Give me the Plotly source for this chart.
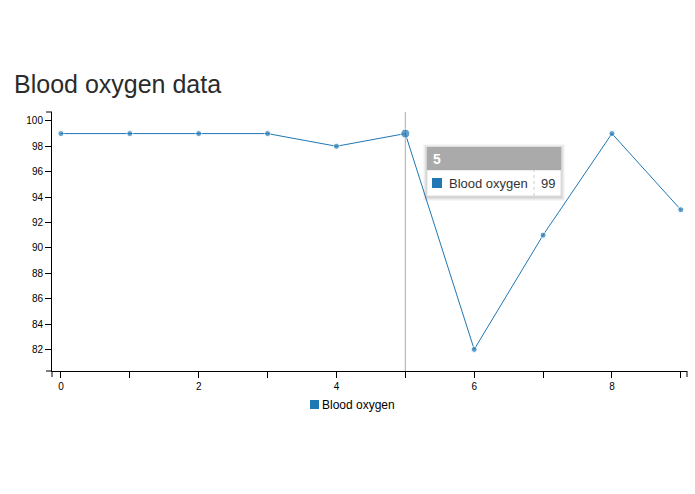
import plotly.graph_objects as go

# ---- data ----
x_vals = [0, 1, 2, 3, 4, 5, 6, 7, 8, 9]
oxygen = [99, 99, 99, 99, 98, 99, 82, 91, 99, 93]
series_name = "Blood oxygen"
title_text = "Blood oxygen data"
hover_index = 5
x_tickvals = list(range(10))
x_ticktext = ["0", "", "2", "", "4", "", "6", "", "8", ""]
y_tickvals = [82, 84, 86, 88, 90, 92, 94, 96, 98, 100]

W, H = 695, 494
L, R, T, B = 52, 687, 112, 371
BLUE = "#1f77b4"
FONT = "Liberation Sans, Arial, Helvetica, sans-serif"


def px(xp):
    return (xp - L) / (R - L)


def py(yp):
    return (B - yp) / (B - T)


fig = go.Figure()
sizes = [9 if i == hover_index else 6 for i in range(len(x_vals))]
fig.add_trace(go.Scatter(
    x=x_vals, y=oxygen, mode="lines+markers", name=series_name,
    line=dict(color=BLUE, width=1), marker=dict(color=BLUE, size=sizes),
    showlegend=False, hoverinfo="skip"))

shapes = []
# outer axis end ticks (d3 style)
for (x0, y0, x1, y1) in [(46, T, L, T), (46, B, L, B), (L, B, L, B + 6), (R, B, R, B + 6)]:
    shapes.append(dict(type="line", xref="paper", yref="paper", x0=px(x0), x1=px(x1), y0=py(y0), y1=py(y1),
                       line=dict(color="#000000", width=1)))
# hover guide line
shapes.append(dict(type="line", xref="x", yref="paper", x0=x_vals[hover_index], x1=x_vals[hover_index],
                   y0=0, y1=1, line=dict(color="#aaaaaa", width=1), layer="below"))
# tooltip shadow (soft)
for off, op in [(4, 0.03), (3, 0.04), (2, 0.05), (1, 0.06)]:
    shapes.append(dict(type="rect", xref="paper", yref="paper",
                       x0=px(427 - off), x1=px(561 + off), y0=py(196 + off + 1), y1=py(147 - off + 1),
                       line=dict(width=0), fillcolor=f"rgba(0,0,0,{op})"))
# tooltip body
shapes.append(dict(type="rect", xref="paper", yref="paper", x0=px(427), x1=px(561), y0=py(196), y1=py(170),
                   line=dict(color="#dddddd", width=1), fillcolor="white"))
shapes.append(dict(type="rect", xref="paper", yref="paper", x0=px(427), x1=px(561), y0=py(170), y1=py(147),
                   line=dict(width=0), fillcolor="#aaaaaa"))
shapes.append(dict(type="line", xref="paper", yref="paper", x0=px(534), x1=px(534), y0=py(196), y1=py(170),
                   line=dict(color="#cccccc", width=1, dash="dot")))
shapes.append(dict(type="rect", xref="paper", yref="paper", x0=px(432), x1=px(442), y0=py(188), y1=py(178),
                   line=dict(width=0), fillcolor=BLUE))
# legend swatch
shapes.append(dict(type="rect", xref="paper", yref="paper", x0=px(310), x1=px(319), y0=py(409), y1=py(400),
                   line=dict(width=0), fillcolor=BLUE))

annotations = [
    dict(xref="paper", yref="paper", x=px(431), y=py(158.5), xanchor="left", yanchor="middle",
         text=f"<b>{x_vals[hover_index]}</b>", showarrow=False, font=dict(size=14, color="white", family=FONT)),
    dict(xref="paper", yref="paper", x=px(447), y=py(183), xanchor="left", yanchor="middle",
         text=series_name, showarrow=False, font=dict(size=13, color="#333333", family=FONT)),
    dict(xref="paper", yref="paper", x=px(539), y=py(183), xanchor="left", yanchor="middle",
         text=str(oxygen[hover_index]), showarrow=False, font=dict(size=13, color="#333333", family=FONT)),
    # legend label
    dict(xref="paper", yref="paper", x=px(320), y=py(404.5), xanchor="left", yanchor="middle",
         text=series_name, showarrow=False, font=dict(size=12, color="#000000", family=FONT)),
]

axis_common = dict(showgrid=False, zeroline=False, showline=True, linecolor="#000000", linewidth=1,
                   ticks="outside", ticklen=6, tickcolor="#000000", tickwidth=1,
                   tickfont=dict(size=10, color="#000000", family=FONT), mirror=False)

fig.update_layout(
    width=W, height=H,
    margin=dict(l=L, r=W - R, t=T, b=H - B, autoexpand=False),
    paper_bgcolor="white", plot_bgcolor="white",
    showlegend=False,
    title=dict(text=title_text, x=14 / W, xref="container", xanchor="left",
               y=1 - 84 / H, yref="container", yanchor="middle",
               font=dict(size=25, color="#2b2b2b", family=FONT)),
    xaxis=dict(range=[-0.13, 9.09], tickvals=x_tickvals, ticktext=x_ticktext, **axis_common),
    yaxis=dict(range=[80.3, 100.7], tickvals=y_tickvals, **axis_common),
    shapes=shapes, annotations=annotations,
)

fig.write_html("out.html", config={"displayModeBar": False},
               post_script="document.body.style.margin='0';")
